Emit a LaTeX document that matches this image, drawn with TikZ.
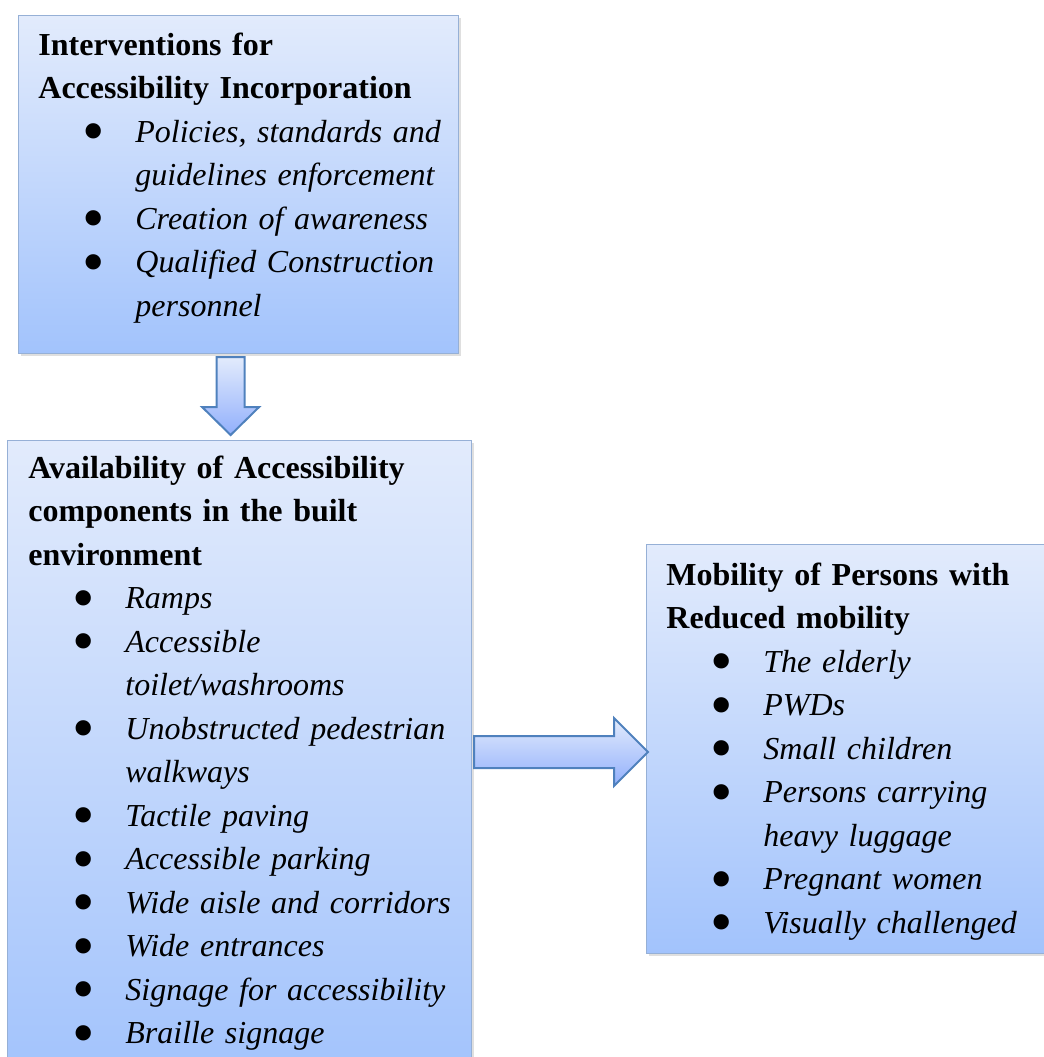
\documentclass[tikz,border=0pt]{standalone}
\usepackage{fontspec}
\setmainfont{Liberation Serif}
\usepackage{graphicx}
\usepackage{xcolor}
\usepackage{tikz}
\usetikzlibrary{calc,shadows}
\definecolor{boxtop}{RGB}{226,235,252}
\definecolor{boxbot}{RGB}{162,195,252}
\definecolor{boxline}{RGB}{150,176,214}
\definecolor{arrline}{RGB}{79,129,189}
\newcommand{\bul}{\makebox[48.5pt][l]{\hspace{21.9pt}\smash{\raisebox{-5.4pt}{\scalebox{2}{\textbullet}}}}}
\newcommand{\cnt}{\hspace*{48.5pt}}

\begin{document}
\begin{tikzpicture}[x=0.5pt,y=-0.5pt]
\tikzset{box/.style={draw=boxline,line width=0.6pt,top color=boxtop,bottom color=boxbot,anchor=north west,inner sep=0pt,
    drop shadow={opacity=0.25,shadow xshift=1.2pt,shadow yshift=-1.2pt}},
  txt/.style={anchor=base west,inner sep=0pt,text width=250pt,align=left,font=\fontsize{16}{21.75}\selectfont},
  barrow/.style={draw=arrline,line width=1pt,line join=miter,top color=boxtop,bottom color=boxbot!90!blue}}
\useasboundingbox (0,0) rectangle (1044,1057);
% boxes
\node[box,minimum width=220pt,minimum height=169pt] (b1) at (18,15) {};
\node[box,minimum width=232pt,minimum height=320pt] (b2) at (7,440) {};
\node[box,minimum width=210pt,minimum height=204.5pt] (b3) at (646,544) {};
\node[txt] (t1) at (38,55) {\textbf{Interventions for}\\
  \textbf{Accessibility Incorporation}\\
  \bul\textit{Policies, standards and}\\
  \cnt\textit{guidelines enforcement}\\
  \bul\textit{Creation of awareness}\\
  \bul\textit{Qualified Construction}\\
  \cnt\textit{personnel}};
\node[txt] (t2) at (28,478) {\textbf{Availability of Accessibility}\\
  \textbf{components in the built}\\
  \textbf{environment}\\
  \bul\textit{Ramps}\\
  \bul\textit{Accessible}\\
  \cnt\textit{toilet/washrooms}\\
  \bul\textit{Unobstructed pedestrian}\\
  \cnt\textit{walkways}\\
  \bul\textit{Tactile paving}\\
  \bul\textit{Accessible parking}\\
  \bul\textit{Wide aisle and corridors}\\
  \bul\textit{Wide entrances}\\
  \bul\textit{Signage for accessibility}\\
  \bul\textit{Braille signage}};
\node[txt] (t3) at (666,585) {\textbf{Mobility of Persons with}\\
  \textbf{Reduced mobility}\\
  \bul\textit{The elderly}\\
  \bul\textit{PWDs}\\
  \bul\textit{Small children}\\
  \bul\textit{Persons carrying}\\
  \cnt\textit{heavy luggage}\\
  \bul\textit{Pregnant women}\\
  \bul\textit{Visually challenged}};
% block arrows
\path (b1.south) ++(-8,3) coordinate (dtop);
\path (b2.north) ++(-9,-5) coordinate (dtip);
\draw[barrow] ($(dtop)+(-14,0)$) -- ($(dtop)+(14,0)$) -- ($(dtip)+(14,-28)$) -- ($(dtip)+(28.5,-28)$)
  -- (dtip) -- ($(dtip)+(-28.5,-28)$) -- ($(dtip)+(-14,-28)$) -- cycle;
\path (b2.east |- 0,752) ++(2,0) coordinate (rtail);
\path (b3.west |- 0,752) ++(2,0) coordinate (rtip);
\draw[barrow] ($(rtail)+(0,-16)$) -- ($(rtip)+(-34,-16)$) -- ($(rtip)+(-34,-34)$) -- (rtip)
  -- ($(rtip)+(-34,34)$) -- ($(rtip)+(-34,16)$) -- ($(rtail)+(0,16)$) -- cycle;
\end{tikzpicture}
\end{document}
